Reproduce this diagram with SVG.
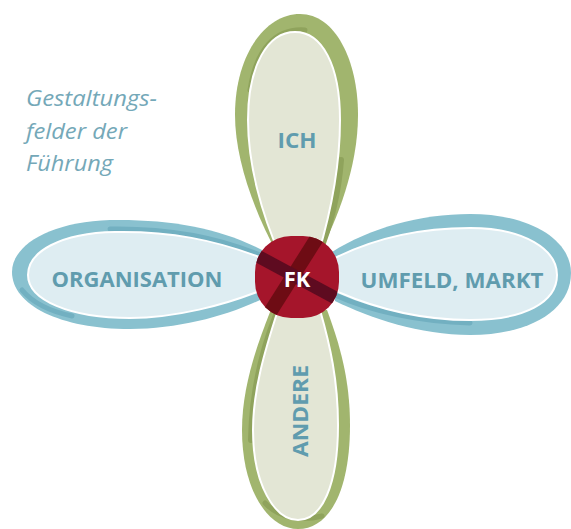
<svg xmlns="http://www.w3.org/2000/svg" width="571" height="529" viewBox="0 0 571 529">
<defs>
<style>
.gring{fill:#a1b56e}
.gdark{fill:none;stroke:#8fa35c;stroke-linecap:round}
.gfill{fill:#e3e6d5;stroke:#ffffff;stroke-width:2}
.bring{fill:#89c1cf}
.bdark{fill:none;stroke:#72b0c1;stroke-linecap:round}
.bfill{fill:#deedf2;stroke:#ffffff;stroke-width:2}
.lbl{font-family:"Open Sans","Noto Sans",sans-serif;font-weight:bold;font-size:21px;fill:#609cae;text-anchor:middle}
.note{font-family:"Open Sans","Noto Sans",sans-serif;font-style:italic;font-size:21px;fill:#74a8b8}
</style>
<clipPath id="fkclip"><rect x="255" y="236" width="84" height="82" rx="36"/></clipPath>
</defs>
<text class="note" x="26" y="106" textLength="131" lengthAdjust="spacingAndGlyphs">Gestaltungs-</text>
<text class="note" x="26" y="139" textLength="101" lengthAdjust="spacingAndGlyphs">felder der</text>
<text class="note" x="26" y="171" textLength="87" lengthAdjust="spacingAndGlyphs">Führung</text>

<g id="organisation">
<path class="bring" d="M 262,250 C 220,228 170,219 110,220 C 50,222 12,245 12,272 C 12,305 60,329 130,329 C 180,329 230,315 264,298 Z"/>
<path class="bdark" stroke-width="5" d="M 110,229 C 170,228 220,238 262,256"/>
<path class="bdark" stroke-width="5" d="M 22,290 C 32,302 48,311 72,316"/>
<path class="bfill" d="M 262,258 C 215,240 170,231 115,232 C 60,233 28,252 28,275 C 28,300 70,318 130,318 C 175,318 225,305 262,290 Z"/>
<text class="lbl" x="137" y="287" textLength="171" lengthAdjust="spacingAndGlyphs">ORGANISATION</text>
</g>

<g id="umfeld">
<path class="bring" d="M 332,252 C 370,228 420,214 470,214 C 530,214 571,240 571,273 C 571,310 530,335 470,335 C 420,335 370,318 335,301 Z"/>
<path class="bdark" stroke-width="5" d="M 335,295 C 370,311 420,322 470,323"/>
<path class="bfill" d="M 335,258 C 375,238 420,228 470,228 C 525,228 557,250 557,275 C 557,302 525,320 470,320 C 420,320 375,308 338,292 Z"/>
<text class="lbl" x="452" y="288" textLength="183" lengthAdjust="spacingAndGlyphs">UMFELD, MARKT</text>
</g>

<g id="ich">
<path class="gring" d="M 282,262 C 255,215 235,160 235,115 C 235,55 265,14 300,14 C 335,14 358,60 358,115 C 358,170 335,225 315,262 Z"/>
<path class="gdark" stroke-width="5" d="M 305,30 C 275,28 256,50 250,90"/>
<path class="gdark" stroke-width="6" d="M 341,160 C 338,200 329,230 317,258"/>
<path class="gfill" d="M 280,255 C 262,215 248,165 248,120 C 248,65 268,32 295,32 C 322,32 340,65 340,120 C 340,170 330,215 318,255 Z"/>
<text class="lbl" x="297" y="148" textLength="39" lengthAdjust="spacingAndGlyphs">ICH</text>
</g>

<g id="andere">
<path class="gring" d="M 270,312 C 255,350 242,390 242,430 C 242,490 268,529 298,529 C 330,529 350,490 350,425 C 350,380 340,345 327,310 Z"/>
<path class="gdark" stroke-width="6" d="M 276,315 C 262,350 252,390 251,440"/>
<path class="gdark" stroke-width="5" d="M 265,503 C 278,517 300,522 322,516"/>
<path class="gfill" d="M 278,310 C 265,350 253,390 253,430 C 253,485 275,520 298,520 C 322,520 338,485 338,425 C 338,380 330,345 320,310 Z"/>
<text class="lbl" transform="translate(308,411) rotate(-90)" x="0" y="0" textLength="92" lengthAdjust="spacingAndGlyphs">ANDERE</text>
</g>

<g id="fk">
<rect x="255" y="236" width="84" height="82" rx="36" fill="#a5152b"/>
<g clip-path="url(#fkclip)">
<path d="M 322,230 L 262,325" stroke="#6e0c14" stroke-width="14" fill="none"/>
<path d="M 250,252 L 345,303" stroke="#5e0b20" stroke-width="13" fill="none"/>
</g>
<text x="297" y="287" font-family="'Open Sans','Noto Sans',sans-serif" font-weight="bold" font-size="22" fill="#ffffff" text-anchor="middle">FK</text>
</g>
</svg>
